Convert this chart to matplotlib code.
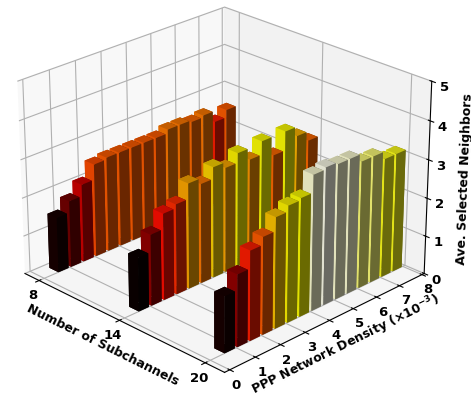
import matplotlib
matplotlib.use("Agg")
import matplotlib.pyplot as plt
import numpy as np

subchannels = [8, 14, 20]
density = [0.5, 1, 1.5, 2, 2.5, 3, 3.5, 4, 4.5, 5, 5.5, 6, 6.5, 7, 7.5]
row_8 = [1.45, 1.75, 2.05, 2.45, 2.5, 2.5, 2.5, 2.5, 2.5, 2.6, 2.6, 2.55, 2.6, 2.3, 2.5]
row_14 = [1.4, 1.85, 2.25, 2.35, 2.75, 2.6, 2.9, 2.75, 3.0, 2.7, 3.05, 2.55, 3.05, 2.8, 2.55]
row_20 = [1.45, 1.85, 2.3, 2.5, 2.85, 3.0, 3.05, 3.5, 3.55, 3.5, 3.5, 3.3, 3.3, 3.1, 3.1]
heights = [row_8, row_14, row_20]

plt.rcParams["font.weight"] = "bold"
plt.rcParams["axes.labelweight"] = "bold"

fig = plt.figure(figsize=(4.71, 3.94), dpi=100)
ax = fig.add_axes([-0.101, -0.035, 1.13, 1.13], projection="3d")
ax.view_init(elev=25, azim=-45)
ax.set_box_aspect((4, 4, 2.95))

# color by height, like the hot colormap
cmap = plt.get_cmap("hot")
for sc, row in zip(subchannels, heights):
    for d, h in zip(density, row):
        c = cmap((h - 1.4) / (3.6 - 1.4))
        ax.bar3d(sc - 0.7, d + 0.05, 0, 0.7, 0.4, h, color=c, shade=True)

ax.set_xlim(6.9, 21.3)
ax.set_ylim(-0.2, 8.1)
ax.set_zlim(0, 5)
ax.set_xticks(subchannels)
ax.set_yticks(range(9))
ax.set_zticks(range(6))
ax.tick_params(labelsize=9.5, pad=-3)
ax.set_xlabel("Number of Subchannels", fontsize=9, labelpad=-7)
ax.set_ylabel(r"PPP Network Density ($\times 10^{-3}$)", fontsize=9, labelpad=-7)
ax.set_zlabel("Ave. Selected Neighbors", fontsize=9, labelpad=-6)
fig.savefig("out.png", dpi=100)
